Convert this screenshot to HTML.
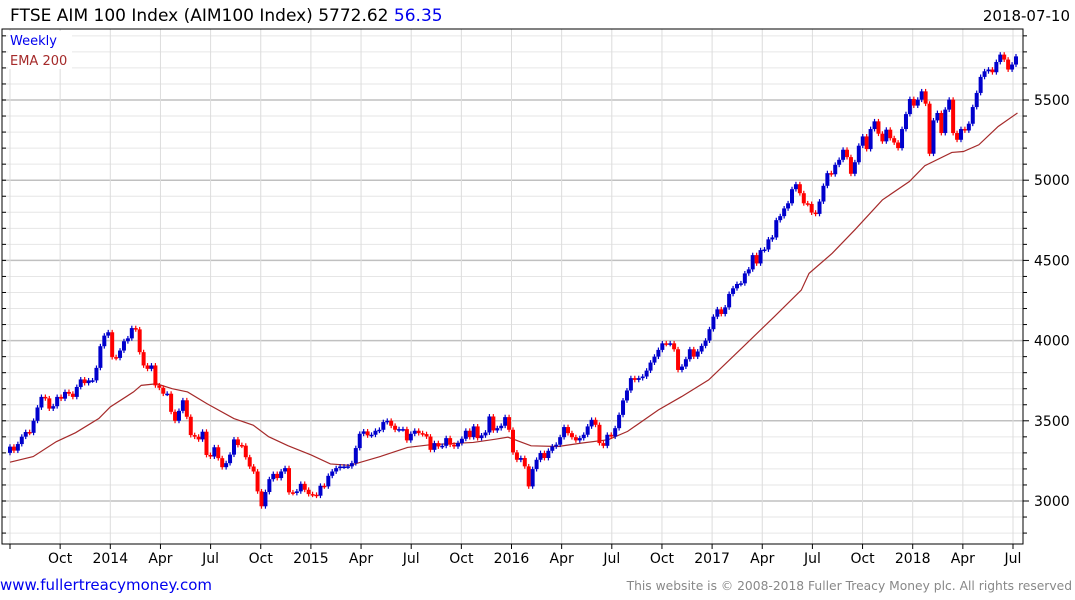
<!DOCTYPE html>
<html><head><meta charset="utf-8"><style>
body{margin:0;background:#fff;width:1075px;height:600px;overflow:hidden;font-family:"DejaVu Sans","Liberation Sans",sans-serif}
svg{position:absolute;left:0;top:0;font-family:"DejaVu Sans","Liberation Sans",sans-serif}
</style></head><body>
<svg id="chart" width="1075" height="600" viewBox="0 0 1075 600">
<text x="10" y="21" font-size="17" fill="#000">FTSE AIM 100 Index (AIM100 Index) 5772.62 <tspan fill="#0000ee">56.35</tspan></text>
<text x="1070" y="21" font-size="15" fill="#000" text-anchor="end">2018-07-10</text>
<g id="grid"></g>
<g id="ema"></g>
<g id="candles"></g>
<g id="axes"></g>
<rect x="8" y="31" width="64" height="38" fill="#fff"/>
<text x="10" y="45" font-size="13" fill="#0000ee">Weekly</text>
<text x="10" y="65" font-size="13" fill="#a52a2a">EMA 200</text>
<text x="0" y="590" font-size="15" fill="#0000ee">www.fullertreacymoney.com</text>
<text x="1072" y="590" font-size="12.3" fill="#888" text-anchor="end">This website is © 2008-2018 Fuller Treacy Money plc. All rights reserved</text>
</svg>
<script>
const closes = [3339,3314,3355,3401,3430,3425,3500,3583,3649,3640,3576,3591,3649,3638,3680,3669,3649,3711,3758,3735,3752,3752,3830,3965,4031,4052,3897,3892,3938,3996,4014,4078,4070,3928,3845,3824,3845,3721,3706,3669,3669,3556,3500,3562,3628,3525,3411,3401,3384,3432,3287,3277,3335,3267,3211,3236,3289,3384,3349,3345,3273,3215,3184,3060,2967,3056,3136,3169,3143,3184,3205,3054,3050,3060,3107,3070,3043,3039,3033,3095,3091,3157,3184,3205,3215,3215,
3216,3236,3330,3419,3434,3409,3413,3438,3444,3492,3500,3469,3444,3448,3448,3378,3419,3438,3423,3417,3402,3319,3361,3340,3344,3392,3351,3340,3361,3388,3438,3398,3465,3392,3409,3427,3527,3440,3454,3469,3523,3444,3303,3257,3268,3216,3091,3199,3257,3299,3268,3313,3340,3351,3398,3461,3423,3398,3378,3392,3413,3465,3506,3475,3361,3344,3413,3402,3454,3537,3627,3689,3766,3755,3766,3776,3813,3863,3900,3942,3983,
3979,3983,3946,3817,3838,3884,3946,3900,3932,3967,4000,4071,4149,4195,4166,4207,4291,4326,4353,4357,4419,4444,4533,4481,4564,4568,4631,4643,4751,4776,4824,
4856,4944,4975,4919,4856,4852,4798,4790,4867,4965,5044,5037,5096,5127,5190,5144,5040,5112,5215,5273,5194,5319,5367,5290,5242,5315,5262,5235,5200,5319,5412,5506,5465,5502,5554,5477,5165,5373,5419,5294,5440,5502,5294,5252,5319,5310,5352,5456,5544,5644,5679,5690,5673,5737,5783,5752,5690,5721,5772];
const firstOpen = 3300;
const emaWeeks = [0,6,12,17,23,26,32,34,38,42,46,51,58,63,67,72,78,83,88,96,103,109,120,126,129,135,142,148,155,160,168,174,181,190,198,205,207,213,219,226,233,237,244,247,251,256,261];
const emaValues = [3242,3277,3370,3426,3514,3587,3680,3721,3731,3700,3680,3607,3514,3473,3401,3345,3287,3231,3222,3278,3334,3351,3365,3386,3398,3344,3340,3361,3382,3434,3568,3651,3755,3963,4149,4315,4419,4544,4694,4877,4992,5090,5173,5179,5221,5335,5419];
const quarterLabels = ["","Oct","2014","Apr","Jul","Oct","2015","Apr","Jul","Oct","2016","Apr","Jul","Oct","2017","Apr","Jul","Oct","2018","Apr","Jul"];
const priceTicks = [3000,3500,4000,4500,5000,5500];

const NS="http://www.w3.org/2000/svg";
const PL=2,PR=1023,PT=29,PB=544;
const yScale=p=>501-(p-3000)*80.2/500;
const xCandle=i=>10+i*(1006/(closes.length-1));
const xWeek=w=>10+w*3.86;
const xQuarter=q=>10+q*50.15;
function mk(tag,attrs,parent){const e=document.createElementNS(NS,tag);for(const k in attrs)e.setAttribute(k,attrs[k]);parent.appendChild(e);return e;}
const grid=document.getElementById('grid'),axes=document.getElementById('axes'),cg=document.getElementById('candles'),eg=document.getElementById('ema');
for(let p=2800;p<=5900;p+=100){const y=yScale(p);if(y<PT||y>PB)continue;const major=p%500===0;
 const l=mk('line',{x1:PL,x2:PR,y1:y,y2:y,stroke:major?'#c0c0c0':'#e6e6e6','stroke-width':major?1.5:1},grid);
 
 
 const t=mk('line',{x1:PR,x2:PR+(major?6:4),y1:y,y2:y,stroke:'#000'},axes);
 
 
 const t2=mk('line',{x1:PL,x2:PL+4,y1:y,y2:y,stroke:'#000'},axes);
 
 
}
priceTicks.forEach(p=>{const t=mk('text',{x:1034,y:yScale(p)+5,'font-size':14,fill:'#000'},axes);t.textContent=p;
 
 });
quarterLabels.forEach((lab,q)=>{const x=xQuarter(q);
 const g=mk('line',{x1:x,x2:x,y1:PT,y2:PB,stroke:'#dcdcdc'},grid);
 
 
 const t=mk('line',{x1:x,x2:x,y1:PB,y2:PB+5,stroke:'#000'},axes);
 
 
 if(lab){const tx=mk('text',{x:x,y:563,'font-size':14,fill:'#000','text-anchor':'middle'},axes);tx.textContent=lab;
 
 }
});
const frame=mk('path',{d:`M${PL},${PT}H${PR}V${PB}H${PL}Z`,fill:'none',stroke:'#000','stroke-width':1},axes);


const ep=mk('polyline',{points:emaWeeks.map((w,i)=>xWeek(w)+','+yScale(emaValues[i])).join(' '),fill:'none',stroke:'#a52a2a','stroke-width':1.2},eg);


closes.forEach((c,i)=>{const o=i===0?firstOpen:closes[i-1];const up=c>=o;const col=up?'#0000cc':'#ff0000';
 const x=xCandle(i);const hi=Math.max(o,c)+15,lo=Math.min(o,c)-15;
 const w=mk('line',{x1:x,x2:x,y1:yScale(hi),y2:yScale(lo),stroke:col,'stroke-width':1.2},cg);
 
 
 const top=yScale(Math.max(o,c)),bot=yScale(Math.min(o,c));
 const r=mk('rect',{x:x-2,y:top,width:4,height:Math.max(1.5,bot-top),fill:col},cg);
 
 
});
</script>
</body></html>
